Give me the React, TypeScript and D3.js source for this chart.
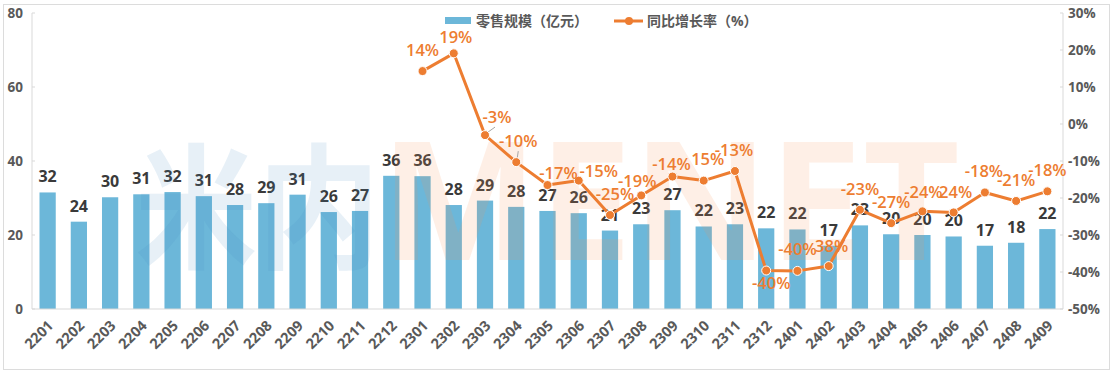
import React from 'react'
import * as d3 from 'd3'

const categories = [
  '2201', '2202', '2203', '2204', '2205', '2206', '2207', '2208', '2209', '2210', '2211', '2212',
  '2301', '2302', '2303', '2304', '2305', '2306', '2307', '2308', '2309', '2310', '2311', '2312',
  '2401', '2402', '2403', '2404', '2405', '2406', '2407', '2408', '2409'
]
const sales = [
  31.5, 23.6, 30.2, 31.0, 31.6, 30.5, 28.1, 28.6, 30.9, 26.2, 26.5, 36.0,
  35.9, 28.1, 29.3, 27.6, 26.5, 25.9, 21.2, 22.9, 26.7, 22.3, 22.9, 21.8,
  21.5, 17.1, 22.6, 20.2, 20.0, 19.6, 17.1, 17.9, 21.6
]
const salesLabels = [
  '32', '24', '30', '31', '32', '31', '28', '29', '31', '26', '27', '36',
  '36', '28', '29', '28', '27', '26', '21', '23', '27', '22', '23', '22',
  '22', '17', '23', '20', '20', '20', '17', '18', '22'
]
const growthCats = categories.slice(12)
const growth = [
  14.3, 19.1, -3.0, -10.3, -16.5, -15.3, -24.6, -19.3, -14.2, -15.3, -12.7, -39.6,
  -39.7, -38.4, -23.2, -26.8, -23.6, -23.9, -18.5, -20.8, -18.2
]
const growthLabels = [
  '14%', '19%', '-3%', '-10%', '-17%', '-15%', '-25%', '-19%', '-14%', '15%', '-13%', '-40%',
  '-40%', '38%', '-23%', '-27%', '-24%', '24%', '-18%', '-21%', '-18%'
]
const leftTicks = [0, 20, 40, 60, 80]
const rightTicks = [30, 20, 10, 0, -10, -20, -30, -40, -50]

// label nudges (label centre relative to point)
const growthOffsets: [number, number][] = [
  [0, -21], [2, -16], [12, -18], [2, -21], [11, -12], [20, -9], [5, -21], [-4, -14],
  [-1, -12], [4, -21], [-1, -21], [5, 13], [0, -22], [3, -20], [0, -21], [0, -21],
  [1, -19], [2, -20], [-1, -21], [0, -21], [0, -21]
]

const W = 1113
const H = 374
const margin = { top: 13, right: 50, bottom: 65, left: 32 }
const BLUE = '#6cb7d9'
const ORANGE = '#ed7d31'
const FONT = '"Open Sans", "Noto Sans CJK SC", sans-serif'

export default function App() {
  const x = d3.scaleBand().domain(categories).range([margin.left, W - margin.right]).paddingInner(0.48).paddingOuter(0.24)
  const yL = d3.scaleLinear().domain([0, 80]).range([H - margin.bottom, margin.top])
  const yR = d3.scaleLinear().domain([-50, 30]).range([H - margin.bottom, margin.top])
  const cx = (c: string) => (x(c) as number) + x.bandwidth() / 2

  const line = d3.line<number>()
    .x((d, i) => cx(growthCats[i]))
    .y(d => yR(d))

  const x0 = margin.left
  const x1 = W - margin.right
  const yBase = yL(0)

  return (
    <svg width={W} height={H} style={{ position: 'absolute', left: 0, top: 0, background: '#fff' }} fontFamily={FONT}>
      <rect x={3.5} y={4.5} width={W - 7} height={H - 9} fill="none" stroke="#dcdcdc" />

      {/* bars */}
      {categories.map((c, i) => (
        <rect key={c} x={x(c)} y={yL(sales[i])} width={x.bandwidth()} height={yBase - yL(sales[i])} fill={BLUE} />
      ))}

      {/* axes */}
      <line x1={x0} x2={x0} y1={margin.top} y2={yBase} stroke="#d9d9d9" />
      <line x1={x1} x2={x1} y1={margin.top} y2={yBase} stroke="#d9d9d9" />
      <line x1={x0} x2={x1} y1={yBase} y2={yBase} stroke="#d9d9d9" />
      {leftTicks.map(t => (
        <g key={t}>
          <line x1={x0} x2={x0 + 3} y1={yL(t)} y2={yL(t)} stroke="#d9d9d9" />
          <text x={23} y={yL(t)} dy="0.35em" textAnchor="end" fontSize={13.5} fontWeight={700} fill="#595959">{t}</text>
        </g>
      ))}
      {rightTicks.map(t => (
        <g key={t}>
          <line x1={x1 - 3} x2={x1} y1={yR(t)} y2={yR(t)} stroke="#d9d9d9" />
          <text x={1068} y={yR(t)} dy="0.35em" textAnchor="start" fontSize={13.5} fontWeight={700} fill="#595959">{t}%</text>
        </g>
      ))}
      {categories.map(c => (
        <text key={c} transform={`translate(${cx(c) + 3},${yBase + 14}) rotate(-45)`} textAnchor="end" dy="0.35em"
          fontSize={14.5} fontWeight={700} fill="#595959">{c}</text>
      ))}

      {/* bar labels */}
      {categories.map((c, i) => (
        <text key={c} x={cx(c)} y={yL(sales[i]) - 10} textAnchor="middle" fontSize={16} fontWeight={700} fill="#3a3a3a">{salesLabels[i]}</text>
      ))}

      {/* watermark */}
      <text x={135} y={258} fontSize={135} fontWeight={700} textLength={245} lengthAdjust="spacingAndGlyphs"
        fill="rgb(70,140,195)" fillOpacity={0.13} fontFamily='"Noto Sans CJK SC", sans-serif'>米内</text>
      <text x={380} y={260} fontSize={165} fontWeight={700} textLength={580} lengthAdjust="spacingAndGlyphs"
        fill="rgb(245,150,85)" fillOpacity={0.15}>MENET</text>

      {/* growth line */}
      <path d={line(growth) || ''} fill="none" stroke={ORANGE} strokeWidth={3} strokeLinejoin="round" />
      <line x1={cx('2303') + 3} y1={yR(growth[2]) - 3} x2={cx('2303') + 10} y2={yR(growth[2]) - 8} stroke="#a5a5a5" />
      <line x1={cx('2304') + 1} y1={yR(growth[3]) - 4} x2={cx('2304') + 2} y2={yR(growth[3]) - 11} stroke="#a5a5a5" />
      {growthCats.map((c, i) => (
        <circle key={c} cx={cx(c)} cy={yR(growth[i])} r={4.5} fill={ORANGE} stroke="#fff" strokeWidth={1} />
      ))}
      {growthCats.map((c, i) => (
        <text key={c} x={cx(c) + growthOffsets[i][0]} y={yR(growth[i]) + growthOffsets[i][1]} dy="0.35em"
          textAnchor="middle" fontSize={16.5} fontWeight={600} fill={ORANGE}>{growthLabels[i]}</text>
      ))}

      {/* legend */}
      <rect x={445} y={17} width={26} height={7} fill={BLUE} />
      <text x={476} y={21} dy="0.35em" fontSize={14} fontWeight={700} fill="#595959">零售规模（亿元）</text>
      <line x1={614} x2={643} y1={21} y2={21} stroke={ORANGE} strokeWidth={3} />
      <circle cx={629} cy={21} r={4} fill={ORANGE} />
      <text x={647} y={21} dy="0.35em" fontSize={14} fontWeight={700} fill="#595959">同比增长率（%）</text>
    </svg>
  )
}
